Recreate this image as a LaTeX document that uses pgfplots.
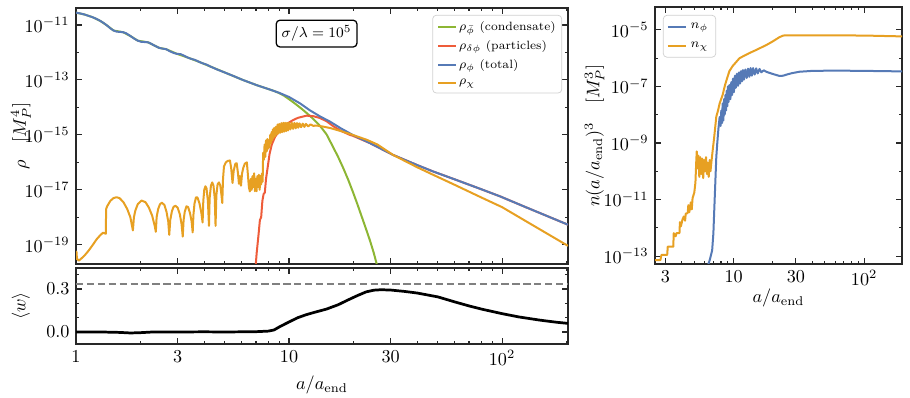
\documentclass[border=0pt]{standalone}
\usepackage{pgfplots}
\pgfplotsset{compat=1.18}
\definecolor{cgreen}{RGB}{141,182,52}
\definecolor{cred}{RGB}{238,92,58}
\definecolor{cblue}{RGB}{86,122,182}
\definecolor{corange}{RGB}{231,160,34}
\definecolor{frame}{RGB}{40,40,40}

\pgfplotsset{
  base/.style={
    scale only axis, tick align=inside,
    major tick length=3.2pt, minor tick length=1.8pt,
    every tick/.style={frame, line width=0.6pt},
    axis line style={frame, line width=0.8pt},
    tick label style={font=\normalsize},
    legend cell align=left,
    legend image code/.code={\draw[##1, line width=1.1pt] (0pt,0pt) -- (10pt,0pt);},
  },
  curve/.style={line width=1.1pt, mark=none, line join=round},
}

\begin{document}
\begin{tikzpicture}

% top left: energy densities (y = log10 rho)
\begin{axis}[base, at={(41.8pt,73.7pt)}, width=270.6pt, height=140.8pt,
  xmode=log, xmin=1, xmax=204, ymin=-19.7, ymax=-10.38,
  xtick={1,3,10,30,100}, xticklabels={},
  minor xtick={2,4,5,6,7,8,9,20,40,50,60,70,80,90,200},
  ytick={-19,-17,-15,-13,-11},
  yticklabels={$10^{-19}$,$10^{-17}$,$10^{-15}$,$10^{-13}$,$10^{-11}$},
  minor ytick={-18,-16,-14,-12},
  ylabel={$\rho\quad[M_P^4]$},
  ylabel style={at={(axis description cs:-0.112,0.5)}, anchor=center},
  legend style={at={(0.988,0.973)}, anchor=north east, draw=black!18,
    rounded corners=2pt, fill=white, font=\fontsize{6.6}{7.8}\selectfont,
    inner sep=2.5pt, row sep=2.5pt, nodes={inner sep=0.8pt}},
]
\addplot[curve, cgreen] coordinates {
(1.00,-10.55)(1.10,-10.62)(1.20,-10.72)(1.30,-10.85)(1.40,-11.02)(1.50,-11.20)
(1.66,-11.26)(1.80,-11.40)(1.95,-11.57)(2.18,-11.63)(2.45,-11.83)(2.65,-11.88)
(2.98,-12.05)(3.36,-12.19)(3.78,-12.34)(4.30,-12.52)(5.0,-12.73)(6.07,-13.0)
(7.0,-13.18)(8.0,-13.33)(8.5,-13.40)(9.0,-13.48)(9.5,-13.58)(10.0,-13.70)
(10.5,-13.82)(11.0,-13.94)(11.5,-14.06)(12.0,-14.18)(12.5,-14.30)(13.0,-14.42)
(13.5,-14.55)(14.0,-14.68)(14.5,-14.83)(15.0,-14.98)(16.0,-15.40)(17.0,-15.80)
(18.0,-16.22)(19.0,-16.65)(20.0,-17.10)(21.0,-17.55)(22.0,-18.00)(23.0,-18.43)
(24.0,-18.85)(25.0,-19.30)(26.0,-19.80)(26.5,-20.1)
};
\addlegendentry{$\rho_{\bar\phi}$ (condensate)}
\addplot[curve, cred] coordinates {
(6.95,-19.9)(7.05,-19.3)(7.2,-18.6)(7.3,-18.1)(7.4,-18.0)(7.5,-17.4)(7.6,-17.15)
(7.7,-17.1)(7.8,-16.6)(7.9,-16.3)(8.0,-16.0)(8.1,-15.7)(8.3,-15.35)(8.6,-15.07)
(9.0,-14.85)(9.4,-14.7)(10.0,-14.55)(10.4,-14.47)(11.0,-14.38)(12.1,-14.3)
(13.0,-14.32)(13.9,-14.38)(15.0,-14.5)(16.1,-14.68)(17.5,-14.85)(19.3,-15.0)
(19.9,-15.03)(24,-15.30)(30.8,-15.73)(40,-16.10)(47.4,-16.33)(60,-16.62)
(80,-16.98)(98,-17.24)(130,-17.64)(160,-17.93)(204,-18.27)
};
\addlegendentry{$\rho_{\delta\phi}$ (particles)}
\addplot[curve, cblue] coordinates {
(1.00,-10.55)(1.05,-10.58)(1.10,-10.62)(1.15,-10.67)(1.20,-10.72)(1.25,-10.78)
(1.30,-10.85)(1.35,-10.93)(1.40,-11.02)(1.45,-11.12)(1.50,-11.20)(1.55,-11.24)
(1.60,-11.25)(1.66,-11.26)(1.72,-11.30)(1.80,-11.40)(1.88,-11.50)(1.95,-11.57)
(2.02,-11.61)(2.10,-11.62)(2.18,-11.63)(2.25,-11.68)(2.35,-11.76)(2.45,-11.83)
(2.55,-11.86)(2.65,-11.88)(2.75,-11.95)(2.88,-12.02)(2.98,-12.05)(3.10,-12.06)
(3.22,-12.12)(3.36,-12.19)(3.50,-12.24)(3.62,-12.27)(3.78,-12.34)(3.95,-12.40)
(4.10,-12.44)(4.30,-12.52)(4.60,-12.62)(5.0,-12.73)(5.5,-12.86)(6.07,-13.0)
(7.0,-13.18)(8.0,-13.33)(9.0,-13.47)(10.0,-13.62)(11.3,-13.86)(12.5,-14.10)
(14.0,-14.33)(15.6,-14.52)(17.5,-14.76)(19.9,-15.00)(24,-15.30)(30.8,-15.73)
(40,-16.10)(47.4,-16.33)(60,-16.62)(80,-16.98)(98,-17.24)(130,-17.64)
(160,-17.93)(204,-18.27)
};
\addlegendentry{$\rho_{\phi}$ (total)}
\addplot[curve, corange] coordinates {
(1.0,-19.55)(1.005,-19.25)(1.01,-19.5)(1.03,-19.58)(1.06,-19.5)(1.1,-19.38)
(1.15,-19.2)(1.2,-19.0)(1.25,-18.8)(1.3,-18.65)(1.34,-18.56)(1.38,-18.6)
(1.385,-17.7)(1.40,-17.6)(1.45,-17.4)(1.5,-17.3)(1.55,-17.27)(1.6,-17.3)
(1.67,-17.45)(1.74,-17.7)(1.8,-18.0)(1.85,-18.48)
(1.87,-18.0)(1.9,-17.75)(1.95,-17.52)(2.03,-17.39)(2.12,-17.45)(2.2,-17.65)
(2.28,-17.95)(2.34,-18.3)(2.37,-18.53)
(2.39,-18.0)(2.43,-17.7)(2.48,-17.52)(2.53,-17.47)(2.6,-17.55)(2.66,-17.8)
(2.71,-18.15)(2.74,-18.64)
(2.77,-18.1)(2.82,-17.78)(2.87,-17.62)(2.93,-17.58)(3.0,-17.65)(3.07,-17.88)
(3.13,-18.25)(3.17,-18.7)
(3.2,-18.1)(3.24,-17.8)(3.3,-17.6)(3.36,-17.63)(3.43,-17.85)(3.49,-18.15)(3.53,-18.55)
(3.56,-17.9)(3.6,-17.5)(3.66,-17.27)(3.72,-17.28)(3.8,-17.5)(3.88,-17.85)(3.93,-18.19)
(3.96,-17.4)(4.0,-17.0)(4.05,-16.87)(4.1,-16.95)(4.16,-17.4)(4.21,-18.31)
(4.24,-17.3)(4.3,-16.85)(4.36,-16.73)(4.42,-16.85)(4.48,-17.3)(4.52,-18.31)
(4.56,-17.2)(4.62,-16.8)(4.69,-16.73)(4.76,-16.85)(4.82,-17.2)(4.86,-17.48)
(4.9,-16.6)(4.95,-16.15)(5.05,-16.0)(5.15,-15.95)(5.28,-15.93)(5.35,-16.2)
(5.43,-16.75)(5.5,-16.3)(5.6,-16.05)(5.68,-16.03)(5.76,-16.4)(5.82,-16.78)
(5.88,-16.5)(5.95,-16.85)(6.02,-16.4)(6.1,-16.2)(6.2,-16.05)(6.34,-16.0)
(6.42,-16.5)(6.48,-16.9)(6.55,-17.06)(6.62,-16.6)(6.68,-17.0)(6.74,-16.5)
(6.8,-16.9)(6.86,-16.4)(6.92,-17.05)(6.98,-16.6)(7.04,-17.05)(7.1,-16.5)
(7.16,-16.9)(7.22,-16.45)(7.28,-17.0)(7.34,-16.5)(7.4,-16.8)(7.47,-16.4)
(7.52,-16.7)(7.56,-15.65)(7.62,-15.9)(7.68,-15.35)(7.74,-15.8)(7.8,-15.2)
(7.86,-15.6)(7.92,-15.15)(7.98,-15.5)(8.04,-15.2)(8.1,-15.45)(8.16,-15.0)
(8.22,-15.3)(8.28,-14.9)(8.34,-15.2)(8.4,-14.8)(8.46,-15.1)(8.52,-14.75)
(8.6,-15.05)(8.68,-14.7)(8.76,-14.98)(8.84,-14.62)(8.92,-14.95)(9.0,-14.6)
(9.1,-14.92)(9.2,-14.57)(9.3,-14.9)(9.4,-14.56)(9.5,-14.88)(9.6,-14.56)
(9.7,-14.86)(9.8,-14.56)(9.9,-14.84)(10.0,-14.56)(10.15,-14.8)(10.3,-14.56)
(10.45,-14.78)(10.6,-14.56)(10.75,-14.76)(10.9,-14.57)(11.05,-14.74)(11.2,-14.58)
(11.4,-14.72)(11.6,-14.59)(11.8,-14.71)(12.0,-14.6)(12.3,-14.69)(12.6,-14.62)
(13.0,-14.67)(13.5,-14.66)(14.5,-14.7)(15.6,-14.75)(17.5,-14.86)(19.9,-15.0)
(23.2,-15.18)(26,-15.35)(30.8,-15.73)(40,-16.18)(47.4,-16.45)(60,-16.82)
(80,-17.28)(100,-17.63)(130,-18.15)(160,-18.56)(204,-19.04)
};
\addlegendentry{$\rho_{\chi}$}
\node[draw=black, rounded corners=2pt, line width=0.7pt, fill=white,
  font=\footnotesize, inner sep=3pt] at (rel axis cs:0.489,0.9)
  {$\sigma/\lambda = 10^5$};
\end{axis}

% bottom left: equation of state
\begin{axis}[base, at={(41.8pt,29.7pt)}, width=270.6pt, height=41.8pt,
  xmode=log, xmin=1, xmax=204, ymin=-0.084, ymax=0.447,
  xtick={1,3,10,30,100}, xticklabels={$1$,$3$,$10$,$30$,$10^2$},
  minor xtick={2,4,5,6,7,8,9,20,40,50,60,70,80,90,200},
  ytick={0,0.3}, yticklabels={$0.0$,$0.3$}, minor ytick={0.1,0.2,0.4},
  xlabel={$a/a_{\mathrm{end}}$},
  xlabel style={at={(axis description cs:0.5,-0.54)}, anchor=center},
  ylabel={$\langle w\rangle$},
  ylabel style={at={(axis description cs:-0.112,0.5)}, anchor=center},
]
\addplot[gray, line width=0.9pt, dash pattern=on 4pt off 2pt] coordinates {(1,0.3333) (204,0.3333)};
\addplot[black, line width=1.5pt, mark=none] coordinates {
(1,0.0)(1.3,0.0)(1.6,-0.003)(1.8,-0.007)(2.0,-0.005)(2.3,0.0)(3,0.0)(4,0.001)
(5,0.0)(6,0.001)(7,0.002)(8,0.006)(8.5,0.014)(9,0.035)(10,0.07)(11,0.1)(12,0.12)
(13,0.135)(15,0.16)(17,0.19)(19,0.225)(21,0.255)(23,0.28)(25,0.292)(27,0.295)
(30,0.293)(35,0.283)(40,0.272)(50,0.245)(60,0.21)(70,0.182)(80,0.16)(100,0.128)
(120,0.105)(150,0.083)(180,0.068)(204,0.06)
};
\end{axis}

% right: comoving number densities (y = log10 n)
\begin{axis}[base, at={(360.25pt,73.7pt)}, width=135.85pt, height=141.35pt,
  xmode=log, xmin=2.5, xmax=195, ymin=-13.28, ymax=-4.19,
  xtick={3,10,30,100}, xticklabels={$3$,$10$,$30$,$10^2$},
  minor xtick={4,5,6,7,8,9,20,40,50,60,70,80,90},
  ytick={-13,-11,-9,-7,-5},
  yticklabels={$10^{-13}$,$10^{-11}$,$10^{-9}$,$10^{-7}$,$10^{-5}$},
  minor ytick={-12,-10,-8,-6},
  xlabel={$a/a_{\mathrm{end}}$},
  xlabel style={at={(axis description cs:0.5,-0.132)}, anchor=center},
  ylabel={$n(a/a_{\mathrm{end}})^3\quad[M_P^3]$},
  ylabel style={at={(axis description cs:-0.245,0.5)}, anchor=center},
  legend style={at={(0.032,0.969)}, anchor=north west, draw=black!18,
    rounded corners=2pt, fill=white, font=\fontsize{7.3}{8.5}\selectfont,
    inner sep=2pt, row sep=2pt},
]
\addplot[curve, cblue] coordinates {
(6.3,-13.4)(6.6,-13.1)(6.85,-12.8)(7.0,-12.2)(7.16,-11.0)(7.3,-10.0)(7.37,-9.5)
(7.5,-9.0)(7.65,-8.5)(7.82,-8.08)(7.95,-8.4)(8.05,-7.85)(8.15,-8.3)(8.24,-7.6)
(8.35,-8.2)(8.45,-7.45)(8.55,-8.0)(8.65,-7.3)(8.75,-7.85)(8.85,-7.15)(8.95,-7.7)
(9.05,-7.0)(9.15,-7.55)(9.3,-6.95)(9.45,-7.45)(9.6,-6.85)(9.75,-7.3)(9.9,-6.72)
(10.05,-7.2)(10.25,-6.62)(10.4,-7.05)(10.6,-6.55)(10.8,-6.98)(11.0,-6.5)
(11.2,-6.9)(11.4,-6.46)(11.6,-6.82)(11.8,-6.42)(12.0,-6.76)(12.3,-6.4)(12.6,-6.7)
(12.9,-6.37)(13.2,-6.66)(13.5,-6.35)(13.8,-6.62)(14.1,-6.35)(14.5,-6.58)
(14.9,-6.36)(15.3,-6.54)(15.8,-6.38)(16.3,-6.5)(17,-6.43)(18,-6.49)(20,-6.56)
(22.5,-6.63)(24,-6.62)(25.5,-6.58)(28,-6.53)(32,-6.48)(40,-6.45)(60,-6.44)
(100,-6.45)(150,-6.46)(195,-6.47)
};
\addlegendentry{$n_{\phi}$}
\addplot[curve, corange] coordinates {
(2.5,-13.14)(2.75,-13.14)(2.8,-12.96)(3.1,-12.96)(3.13,-12.67)(3.45,-12.67)
(3.48,-12.19)(3.6,-12.3)(3.65,-12.19)(3.85,-12.19)(3.88,-11.8)(3.95,-11.95)
(4.05,-11.72)(4.15,-11.6)(4.25,-11.75)(4.3,-11.5)(4.45,-11.48)(4.5,-11.2)
(4.58,-11.45)(4.7,-11.1)(4.78,-11.35)(4.85,-10.95)(5.0,-10.75)(5.1,-10.4)
(5.18,-9.6)(5.22,-9.3)(5.3,-9.9)(5.38,-9.45)(5.46,-10.2)(5.55,-9.5)(5.65,-10.1)
(5.75,-9.55)(5.85,-10.24)(5.95,-9.6)(6.05,-10.0)(6.15,-9.5)(6.25,-10.1)
(6.35,-9.7)(6.45,-10.2)(6.55,-9.6)(6.65,-10.0)(6.75,-9.7)(6.9,-9.3)(7.1,-8.8)
(7.37,-8.07)(7.6,-7.85)(7.82,-7.6)(8.24,-7.3)(8.6,-6.95)(9.0,-6.65)(9.3,-6.45)
(9.83,-6.28)(11.1,-6.0)(13.2,-5.82)(14.9,-5.71)(17.9,-5.53)(19.9,-5.41)
(22.4,-5.26)(24,-5.2)(26,-5.19)(40,-5.19)(100,-5.2)(195,-5.23)
};
\addlegendentry{$n_{\chi}$}
\end{axis}

\pgfresetboundingbox
\path[use as bounding box] (0pt,0pt) rectangle (500.5pt,218.9pt);
\end{tikzpicture}
\end{document}
